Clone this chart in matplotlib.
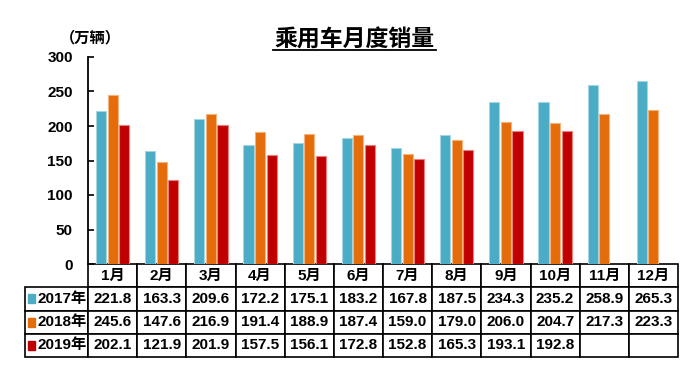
# -*- coding: utf-8 -*-

import matplotlib.pyplot as plt
import numpy as np

plt.rcParams['font.family'] = ['Liberation Sans', 'Noto Sans CJK SC', 'DejaVu Sans']
plt.rcParams['font.weight'] = 'bold'

months = ['1月', '2月', '3月', '4月', '5月', '6月',
          '7月', '8月', '9月', '10月', '11月', '12月']
series_names = ['2017年', '2018年', '2019年']
sales_2017 = [221.8, 163.3, 209.6, 172.2, 175.1, 183.2,
              167.8, 187.5, 234.3, 235.2, 258.9, 265.3]
sales_2018 = [245.6, 147.6, 216.9, 191.4, 188.9, 187.4,
              159.0, 179.0, 206.0, 204.7, 217.3, 223.3]
sales_2019 = [202.1, 121.9, 201.9, 157.5, 156.1, 172.8,
              152.8, 165.3, 193.1, 192.8, None, None]
yticks = [0, 50, 100, 150, 200, 250, 300]

colors = ['#4BACC6', '#E46C0A', '#C00000']
edges = ['#A5D5E2', '#F5B27A', '#E88080']

W, H, DPI = 700, 376, 100
fig = plt.figure(figsize=(W / DPI, H / DPI), dpi=DPI)
ax_l, ax_r, ax_t, ax_b = 88, 678, 57, 264
ax = fig.add_axes([ax_l / W, 1 - ax_b / H, (ax_r - ax_l) / W, (ax_b - ax_t) / H])

x = np.arange(len(months))
width = 0.205
step = 0.235
for i, data in enumerate([sales_2017, sales_2018, sales_2019]):
    vals = np.array([np.nan if v is None else v for v in data], dtype=float)
    ax.bar(x + (i - 1) * step, vals, width, color=colors[i],
           edgecolor=edges[i], linewidth=0.8, zorder=2)

ax.set_xlim(-0.5, len(months) - 0.5)
ax.set_ylim(0, 300)
ax.set_yticks(yticks)
ax.set_yticklabels([str(v) for v in yticks], fontsize=11, fontweight='bold')
ax.tick_params(axis='y', direction='in', length=4, width=1.2, pad=11)
ax.set_xticks([])
for s in ['top', 'right', 'bottom']:
    ax.spines[s].set_visible(False)
ax.spines['left'].set_linewidth(1.3)

# data table under the axes
cell_text = []
for data in [sales_2017, sales_2018, sales_2019]:
    cell_text.append([''] + ['' if v is None else '%.1f' % v for v in data])
label_w = (ax_l - 25) / (ax_r - ax_l)
col_w = 1.0 / len(months)
tab_h = (357 - ax_b) / (ax_b - ax_t)
tab = ax.table(cellText=cell_text, colLabels=[''] + months,
               colWidths=[label_w] + [col_w] * len(months),
               bbox=[-label_w, -tab_h, 1 + label_w, tab_h],
               cellLoc='center')
tab.auto_set_font_size(False)
for (r, c), cell in tab.get_celld().items():
    cell.set_linewidth(1.2)
    cell.get_text().set_fontsize(11)
    cell.get_text().set_fontweight('bold')
tab[0, 0].visible_edges = ''
for r, name in enumerate(series_names, start=1):
    cell = tab[r, 0]
    cell.get_text().set_text(name)
    cell.get_text().set_ha('right')
    cell._loc = 'right'
    cell.PAD = 0.02

# coloured legend keys in the row labels
row_h = tab_h / 4
for i in range(3):
    yc = -row_h * (i + 1.5)
    ax.add_patch(plt.Rectangle((-label_w + 0.005, yc - 0.022), 0.012, 0.044,
                               transform=ax.transAxes, color=colors[i],
                               clip_on=False, zorder=5))

fig.text(60 / W, 1 - 37 / H, '（万辆）', fontsize=11, fontweight='bold',
         va='center', ha='left', family=['Noto Sans CJK SC', 'DejaVu Sans'])
title = fig.text(354 / W, 1 - 40 / H, '乘用车月度销量', fontsize=16.5,
                 fontweight='bold', ha='center', va='center',
                 family=['Noto Sans CJK SC', 'DejaVu Sans'])
fig.lines.append(plt.Line2D([273 / W, 436 / W], [1 - 50 / H, 1 - 50 / H],
                            transform=fig.transFigure, color='black', lw=1.3))

plt.savefig('out.png', dpi=DPI)
plt.close()
